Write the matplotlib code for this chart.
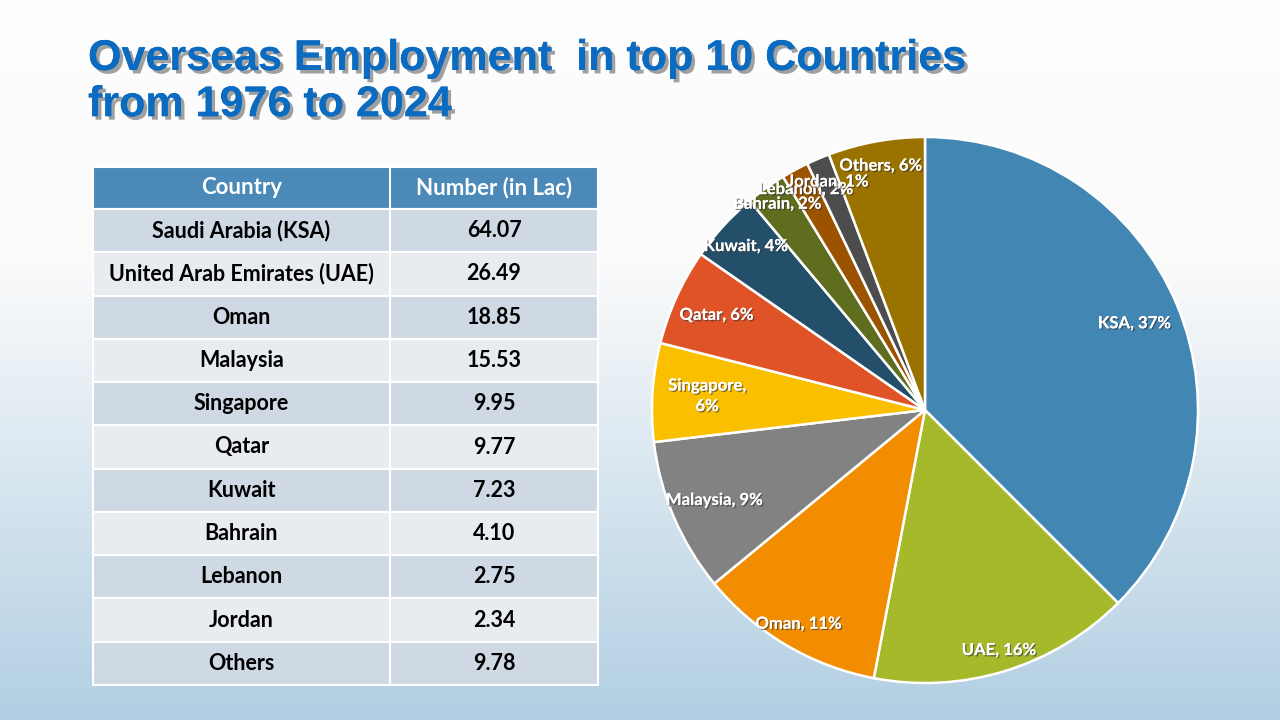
import matplotlib.pyplot as plt
import matplotlib.patheffects as pe
import numpy as np
from matplotlib.colors import LinearSegmentedColormap

# data
countries = ['Saudi Arabia (KSA)', 'United Arab Emirates (UAE)', 'Oman', 'Malaysia',
             'Singapore', 'Qatar', 'Kuwait', 'Bahrain', 'Lebanon', 'Jordan', 'Others']
short_names = ['KSA', 'UAE', 'Oman', 'Malaysia', 'Singapore', 'Qatar', 'Kuwait',
               'Bahrain', 'Lebanon', 'Jordan', 'Others']
numbers = [64.07, 26.49, 18.85, 15.53, 9.95, 9.77, 7.23, 4.10, 2.75, 2.34, 9.78]
header = ['Country', 'Number (in Lac)']
title = 'Overseas Employment  in top 10 Countries\nfrom 1976 to 2024'

colors = ['#4286B4', '#A5B92B', '#F28C00', '#828282', '#FAC000', '#E05327',
          '#244F6A', '#5F6D1E', '#9B5300', '#4D4D4D', '#9A7200']
label_dist = [0.83, 0.92, 0.91, 0.84, 0.80, 0.84, 0.89, 0.93, 0.92, 0.91, 0.91]

FONT = ['Lato', 'DejaVu Sans']

fig = plt.figure(figsize=(12.8, 7.2), dpi=100)

# background gradient
bg = fig.add_axes([0, 0, 1, 1])
bg_cmap = LinearSegmentedColormap.from_list(
    'bg', [(0, '#FFFFFF'), (0.1, '#FDFDFD'), (0.36, '#FBFBFB'), (1.0, '#B2CFE3')])
grad = np.linspace(0, 1, 400).reshape(-1, 1)
bg.imshow(grad, aspect='auto', cmap=bg_cmap, extent=[0, 1, 0, 1], origin='upper')
bg.set_xlim(0, 1)
bg.set_ylim(0, 1)
bg.axis('off')

# title
fig.text(88 / 1280, 1 - 39 / 720, title, ha='left', va='top',
         fontsize=31, fontweight='bold', color='#0A6BC0',
         family=['Liberation Sans', 'DejaVu Sans'], linespacing=1.2,
         path_effects=[pe.withSimplePatchShadow(offset=(2.5, -2.5), shadow_rgbFace='#6E6E6E', alpha=0.65),
                       pe.Normal()])

# table drawn in pixel coordinates
tab = fig.add_axes([0, 0, 1, 1], facecolor='none')
tab.set_xlim(0, 1280)
tab.set_ylim(720, 0)
tab.axis('off')
x0, xm, x1 = 93, 390, 598
y_head, head_h = 167, 42
row_h = (685 - (y_head + head_h)) / len(countries)

tab.add_patch(plt.Rectangle((x0, y_head), x1 - x0, head_h, facecolor='#4A89B8',
                            edgecolor='white', lw=1.5))
tab.plot([xm, xm], [y_head, y_head + head_h], color='white', lw=1.5)
for hx, txt in zip([(x0 + xm) / 2, (xm + x1) / 2], header):
    tab.text(hx, y_head + head_h / 2, txt, ha='center', va='center', color='white',
             fontsize=16, fontweight='bold', family=FONT)

for i, (name, val) in enumerate(zip(countries, numbers)):
    ytop = y_head + head_h + i * row_h
    fc = '#CFD9E4' if i % 2 == 0 else '#E8EBF0'
    tab.add_patch(plt.Rectangle((x0, ytop), x1 - x0, row_h, facecolor=fc,
                                edgecolor='white', lw=1.5))
    tab.plot([xm, xm], [ytop, ytop + row_h], color='white', lw=1.5)
    tab.text((x0 + xm) / 2, ytop + row_h / 2, name, ha='center', va='center',
             color='black', fontsize=15.5, fontweight='bold', family=FONT)
    tab.text((xm + x1) / 2, ytop + row_h / 2, f'{val:.2f}', ha='center', va='center',
             color='black', fontsize=15.5, fontweight='bold', family=FONT)

# pie
cx, cy, r = 925, 410, 273
ax = fig.add_axes([(cx - r) / 1280, (720 - cy - r) / 720, 2 * r / 1280, 2 * r / 720])
wedges, _ = ax.pie(numbers, colors=colors, startangle=90, counterclock=False,
                   radius=1, wedgeprops=dict(edgecolor='white', linewidth=1.8))
ax.set_xlim(-1, 1)
ax.set_ylim(-1, 1)
ax.set_aspect('equal')
ax.axis('off')

total = sum(numbers)
for w, n, v, d in zip(wedges, short_names, numbers, label_dist):
    ang = np.deg2rad((w.theta1 + w.theta2) / 2)
    sep = '\n' if n == 'Singapore' else ' '
    ax.text(d * np.cos(ang), d * np.sin(ang), f'{n},{sep}{round(100 * v / total)}%',
            ha='center', va='center', color='white', fontsize=12, fontweight='bold',
            family=FONT, linespacing=1.35,
            path_effects=[pe.withSimplePatchShadow(offset=(1, -1), shadow_rgbFace='#333333', alpha=0.6),
                          pe.Normal()])

fig.savefig('out.png', dpi=100)
